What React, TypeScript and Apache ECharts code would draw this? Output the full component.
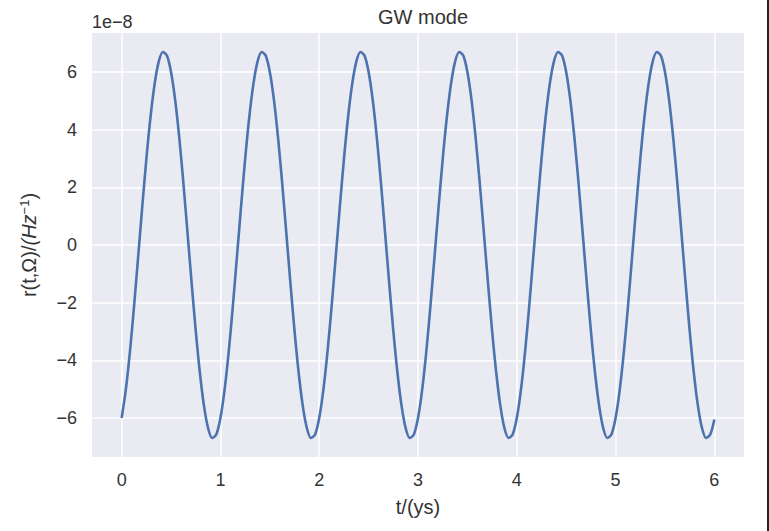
import React, { useEffect, useRef } from "react";
import * as echarts from "echarts";

const tValues = [
  0, 0.0417, 0.0833, 0.125, 0.1667, 0.2083, 0.25, 0.2917, 0.3333, 0.375, 0.4167, 0.4583,
  0.5, 0.5417, 0.5833, 0.625, 0.6667, 0.7083, 0.75, 0.7917, 0.8333, 0.875, 0.9167, 0.9583,
  1, 1.0417, 1.0833, 1.125, 1.1667, 1.2083, 1.25, 1.2917, 1.3333, 1.375, 1.4167, 1.4583,
  1.5, 1.5417, 1.5833, 1.625, 1.6667, 1.7083, 1.75, 1.7917, 1.8333, 1.875, 1.9167, 1.9583,
  2, 2.0417, 2.0833, 2.125, 2.1667, 2.2083, 2.25, 2.2917, 2.3333, 2.375, 2.4167, 2.4583,
  2.5, 2.5417, 2.5833, 2.625, 2.6667, 2.7083, 2.75, 2.7917, 2.8333, 2.875, 2.9167, 2.9583,
  3, 3.0417, 3.0833, 3.125, 3.1667, 3.2083, 3.25, 3.2917, 3.3333, 3.375, 3.4167, 3.4583,
  3.5, 3.5417, 3.5833, 3.625, 3.6667, 3.7083, 3.75, 3.7917, 3.8333, 3.875, 3.9167, 3.9583,
  4, 4.0417, 4.0833, 4.125, 4.1667, 4.2083, 4.25, 4.2917, 4.3333, 4.375, 4.4167, 4.4583,
  4.5, 4.5417, 4.5833, 4.625, 4.6667, 4.7083, 4.75, 4.7917, 4.8333, 4.875, 4.9167, 4.9583,
  5, 5.0417, 5.0833, 5.125, 5.1667, 5.2083, 5.25, 5.2917, 5.3333, 5.375, 5.4167, 5.4583,
  5.5, 5.5417, 5.5833, 5.625, 5.6667, 5.7083, 5.75, 5.7917, 5.8333, 5.875, 5.9167, 5.9583,
  6,
];

// r(t, Ω) in units of 1e-8 Hz^-1
const rValues = [
  -6.0, -5.03, -3.72, -2.15, -0.43, 1.31, 2.97, 4.42, 5.57, 6.35, 6.69, 6.57,
  6.0, 5.03, 3.72, 2.15, 0.43, -1.31, -2.97, -4.42, -5.57, -6.35, -6.69, -6.57,
  -6.0, -5.03, -3.72, -2.15, -0.43, 1.31, 2.97, 4.42, 5.57, 6.35, 6.69, 6.57,
  6.0, 5.03, 3.72, 2.15, 0.43, -1.31, -2.97, -4.42, -5.57, -6.35, -6.69, -6.57,
  -6.0, -5.03, -3.72, -2.15, -0.43, 1.31, 2.97, 4.42, 5.57, 6.35, 6.69, 6.57,
  6.0, 5.03, 3.72, 2.15, 0.43, -1.31, -2.97, -4.42, -5.57, -6.35, -6.69, -6.57,
  -6.0, -5.03, -3.72, -2.15, -0.43, 1.31, 2.97, 4.42, 5.57, 6.35, 6.69, 6.57,
  6.0, 5.03, 3.72, 2.15, 0.43, -1.31, -2.97, -4.42, -5.57, -6.35, -6.69, -6.57,
  -6.0, -5.03, -3.72, -2.15, -0.43, 1.31, 2.97, 4.42, 5.57, 6.35, 6.69, 6.57,
  6.0, 5.03, 3.72, 2.15, 0.43, -1.31, -2.97, -4.42, -5.57, -6.35, -6.69, -6.57,
  -6.0, -5.03, -3.72, -2.15, -0.43, 1.31, 2.97, 4.42, 5.57, 6.35, 6.69, 6.57,
  6.0, 5.03, 3.72, 2.15, 0.43, -1.31, -2.97, -4.42, -5.57, -6.35, -6.69, -6.57,
  -6.05,
];

const xTicks = [0, 1, 2, 3, 4, 5, 6];
const yTicks = [-6, -4, -2, 0, 2, 4, 6];

const FONT = "'Liberation Sans', Arial, sans-serif";
const TEXT = "#333333";

export default function App() {
  const ref = useRef<HTMLDivElement>(null);
  useEffect(() => {
    if (!ref.current) return;
    const chart = echarts.init(ref.current, null, { renderer: "svg" });
    const data = tValues.map((t, i) => [t, rValues[i]]);
    chart.setOption({
      animation: false,
      backgroundColor: "#ffffff",
      textStyle: { fontFamily: FONT },
      title: {
        text: "GW mode",
        left: 418,
        top: 2,
        textAlign: "center",
        textStyle: { fontFamily: FONT, fontSize: 20, fontWeight: "normal", color: TEXT },
      },
      grid: {
        left: 92,
        right: 25,
        top: 33,
        bottom: 74,
        show: true,
        backgroundColor: "#eaeaf2",
        borderWidth: 0,
      },
      graphic: [
        {
          type: "text",
          left: 92,
          top: 13,
          style: { text: "1e\u22128", fontFamily: FONT, fontSize: 18, fill: TEXT },
        },
        {
          type: "rect",
          shape: { x: 767, y: 0, width: 2, height: 531 },
          style: { fill: "#222222" },
        },
      ],
      xAxis: {
        type: "value",
        min: -0.3,
        max: 6.3,
        name: "t/(ys)",
        nameLocation: "middle",
        nameGap: 40,
        nameTextStyle: { fontFamily: FONT, fontSize: 20, color: TEXT },
        axisLine: { show: false },
        axisTick: { show: false, customValues: xTicks },
        axisLabel: {
          customValues: xTicks,
          fontFamily: FONT,
          fontSize: 18,
          color: TEXT,
          margin: 14,
        },
        splitLine: { show: true, lineStyle: { color: "#ffffff", width: 1.5 } },
      },
      yAxis: {
        type: "value",
        min: -7.35,
        max: 7.35,
        name: "{a|r(t,\u03a9)/}{i|(Hz}{s|\u22121}{a|)}",
        nameLocation: "middle",
        nameGap: 53,
        nameRotate: 90,
        nameTextStyle: {
          fontFamily: FONT,
          fontSize: 20,
          color: TEXT,
          rich: {
            a: { fontFamily: FONT, fontSize: 20, color: TEXT },
            i: { fontFamily: FONT, fontSize: 20, fontStyle: "italic", color: TEXT },
            s: { fontFamily: FONT, fontSize: 13, color: TEXT, verticalAlign: "top", padding: [0, 0, 8, 0] },
          },
        },
        axisLine: { show: false },
        axisTick: { show: false, customValues: yTicks },
        axisLabel: {
          customValues: yTicks,
          fontFamily: FONT,
          fontSize: 18,
          color: TEXT,
          margin: 15,
          formatter: (v: number) => (v < 0 ? "\u2212" + Math.abs(v) : String(v)),
        },
        splitLine: { show: true, lineStyle: { color: "#ffffff", width: 1.5 } },
      },
      series: [
        {
          type: "line",
          data,
          smooth: 0.3,
          showSymbol: false,
          lineStyle: { color: "#4c72b0", width: 2.6 },
        },
      ],
    });
    return () => chart.dispose();
  }, []);
  return (
    <div
      ref={ref}
      style={{ position: "fixed", left: 0, top: 0, width: 769, height: 531 }}
    />
  );
}
